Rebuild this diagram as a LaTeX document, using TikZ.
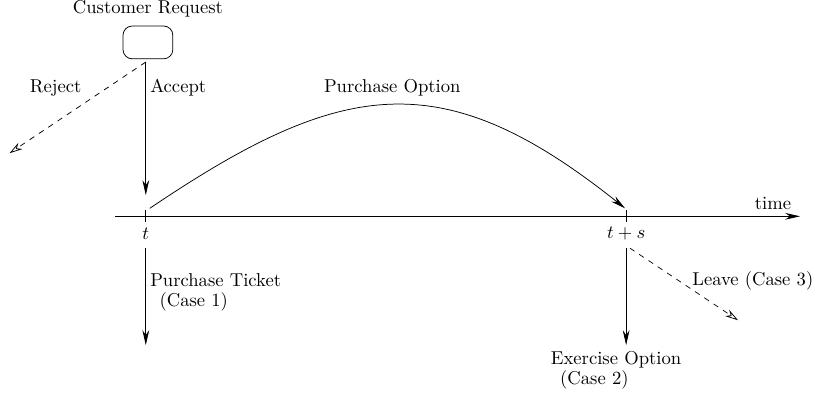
\documentclass[tikz,border=0pt]{standalone}
\usetikzlibrary{arrows.meta,positioning}

\begin{document}
\begin{tikzpicture}[
            timeline/.style={
                -{Stealth[length=8pt,width=3.6pt]}
            },
            flow/.style={
                -{Stealth[length=8pt,width=3.6pt]}
            },
            drop/.style={
                dashed,
                -{Stealth[open,length=7pt,width=4pt]}
            },
            request/.style={
                draw, rounded corners=5pt,
                minimum width=0.94cm, minimum height=0.62cm
            },
            tick/.style={
                insert path={++(0,-0.11) -- ++(0,0.22)}
            }
        ]
        \useasboundingbox (-2.75,-3.43) rectangle (12.66,4.08);

        % request and decision
        \node[request] (req) at (0.04,3.28) {};
        \node[above=1pt of req] (reqlabel) {Customer Request};
        \coordinate (reqout) at (0,2.91);
        \coordinate (rejectend) at (-2.57,1.19);
        \coordinate (accepted) at (0,0.40);
        \draw[drop] (reqout) -- (rejectend);
        \draw[flow] (reqout) -- (accepted);
        \node at (-1.70,2.42) (reject) {Reject};
        \node[anchor=west] at (-0.04,2.42) (accept) {Accept};

        % time axis
        \coordinate (axisstart) at (-0.58,0);
        \coordinate (axisend) at (12.34,0);
        \coordinate (t) at (0,0);
        \coordinate (ts) at (9.06,0);
        \draw[timeline] (axisstart) -- (axisend);
        \draw (t) [tick];
        \draw (ts) [tick];
        \node at (11.83,0.25) (time) {time};
        \node at (0,-0.32) (tlabel) {$t$};
        \node at (9.06,-0.32) (tslabel) {$t+s$};

        % option
        \coordinate (optstart) at (0.075,0.15);
        \coordinate (optend) at (9.04,0.15);
        \draw[flow] (optstart) .. controls (3.70,2.60) and (5.60,2.90) .. (optend);
        \node at (4.65,2.43) (option) {Purchase Option};

        % cases
        \coordinate (tdown) at (0,-0.60);
        \coordinate (ticket) at (0,-2.43);
        \draw[flow] (tdown) -- (ticket);
        \node[anchor=west,align=left] at (-0.04,-1.43) (case1)
            {Purchase Ticket\\[-1pt]\hspace{5pt}(Case 1)};

        \coordinate (tsdown) at (9.06,-0.60);
        \coordinate (exercise) at (9.06,-2.43);
        \draw[flow] (tsdown) -- (exercise);
        \node[align=left] at (8.87,-2.90) (case2)
            {Exercise Option\\[-1pt]\hspace{5pt}(Case 2)};

        \coordinate (leavestart) at (9.13,-0.60);
        \coordinate (leaveend) at (11.17,-1.96);
        \draw[drop] (leavestart) -- (leaveend);
        \node at (11.45,-1.21) (case3) {Leave (Case 3)};
\end{tikzpicture}
\end{document}
